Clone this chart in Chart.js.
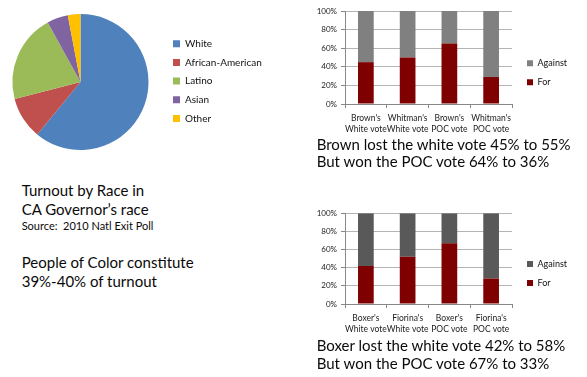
<!DOCTYPE html>
<html>
<head>
<meta charset="utf-8">
<script src="https://cdn.jsdelivr.net/npm/chart.js@4"></script>
<style>
  body { margin: 0; width: 587px; height: 377px; background: #fff; overflow: hidden; position: relative; font-family: Lato, sans-serif; color: #0a0a0a; }
  canvas { position: absolute; }
  .txt { position: absolute; white-space: nowrap; }
</style>
</head>
<body>
<canvas id="raceChart" width="300" height="165" style="left:0px;top:0px"></canvas>
<canvas id="govChart" width="287" height="140" style="left:300px;top:0px"></canvas>
<canvas id="senChart" width="287" height="140" style="left:300px;top:200px"></canvas>

<div class="txt" style="left:21.7px;top:180.7px;font-size:15px;line-height:19px">Turnout by Race in<br>CA Governor’s race</div>
<div class="txt" style="left:21.7px;top:219.6px;font-size:11px;line-height:11px">Source:&nbsp; 2010 Natl Exit Poll</div>
<div class="txt" style="left:21.7px;top:253.3px;font-size:15px;line-height:18.3px">People of Color constitute<br>39%-40% of turnout</div>
<div class="txt" style="left:316.7px;top:136.4px;font-size:15px;line-height:17px">Brown lost the white vote 45% to 55%<br>But won the POC vote 64% to 36%</div>
<div class="txt" style="left:316.7px;top:335.9px;font-size:15px;line-height:18px">Boxer lost the white vote 42% to 58%<br>But won the POC vote 67% to 33%</div>

<script>
// turnout by race (pie)
const raceLabels = ['White', 'African-American', 'Latino', 'Asian', 'Other'];
const raceShares = [61, 10, 21, 5, 3];
const raceColors = ['#4F81BD', '#C0504D', '#9BBB59', '#8064A2', '#FFC000'];

// governor race, vote share by group
const govLabels = [["Brown's", 'White vote'], ["Whitman's", 'White vote'], ["Brown's", 'POC vote'], ["Whitman's", 'POC vote']];
const govFor = [45, 50, 65, 29];
const govAgainst = [55, 50, 35, 71];

// senate race
const senLabels = [["Boxer's", 'White vote'], ["Fiorina's", 'White vote'], ["Boxer's", 'POC vote'], ["Fiorina's", 'POC vote']];
const senFor = [42, 52, 67, 28];
const senAgainst = [58, 48, 33, 72];

const forColor = '#7F0000';

Chart.defaults.font.family = 'Lato, sans-serif';
Chart.defaults.color = '#222';

// puts the legend where the original has it
const legendSpot = {
    id: 'legendSpot',
    beforeInit(chart) {
        const legend = chart.legend;
        if (!legend) return;
        const fit = legend.fit;
        legend.fit = function () {
            fit.call(this);
            const o = chart.options.plugins.legendSpot;
            if (o && o.width) this.width = o.width;
        };
    },
    beforeDraw(chart, args, o) {
        const lg = chart.legend;
        if (!lg || o.x == null) return;
        const pad = lg.options.labels.padding;
        lg.left = o.x - pad;
        lg.top = o.y - pad;
        lg.right = chart.width;
        lg.bottom = chart.height;
    }
};

new Chart(document.getElementById('raceChart'), {
    type: 'pie',
    data: {
        labels: raceLabels,
        datasets: [{ data: raceShares, backgroundColor: raceColors, borderWidth: 0 }]
    },
    options: {
        responsive: false,
        animation: false,
        layout: { padding: { left: 12, top: 14, right: 0, bottom: 15 } },
        plugins: {
            tooltip: { enabled: false },
            legend: {
                position: 'right',
                align: 'start',
                labels: { boxWidth: 7, boxHeight: 7, padding: 8.7, font: { size: 10 }, color: '#111' }
            },
            legendSpot: { x: 173, y: 38.7, width: 151 }
        }
    },
    plugins: [legendSpot]
});

const drawBars = (id, labels, forVals, againstVals, againstColor, padTop, legendY) => {
    return new Chart(document.getElementById(id), {
        type: 'bar',
        data: {
            labels: labels,
            datasets: [
                { label: 'For', data: forVals, backgroundColor: forColor, barPercentage: 0.376, categoryPercentage: 1 },
                { label: 'Against', data: againstVals, backgroundColor: againstColor, barPercentage: 0.376, categoryPercentage: 1 }
            ]
        },
        options: {
            responsive: false,
            animation: false,
            layout: { padding: { top: padTop, left: 0, right: 0, bottom: 0 } },
            scales: {
                x: {
                    stacked: true,
                    ticks: { autoSkip: false, maxRotation: 0, minRotation: 0, font: { size: 8.5, lineHeight: 1.3 }, color: '#222', padding: 5 },
                    grid: { offset: true, drawOnChartArea: false, tickLength: 4, color: '#888' },
                    border: { color: '#888' },
                    afterFit: (s) => { s.height = 36; }
                },
                y: {
                    stacked: true,
                    min: 0,
                    max: 100,
                    ticks: { stepSize: 20, callback: (v) => v + '%', font: { size: 8 }, color: '#222', padding: 4 },
                    grid: { color: '#b4b4b4', tickLength: 4, tickColor: '#888' },
                    border: { color: '#888' },
                    afterFit: (s) => { s.width = 45; }
                }
            },
            plugins: {
                tooltip: { enabled: false },
                legend: {
                    position: 'right',
                    align: 'start',
                    reverse: true,
                    labels: { boxWidth: 6, boxHeight: 6, padding: 10, font: { size: 9 }, color: '#111' }
                },
                legendSpot: { x: 227, y: legendY, width: 75 }
            }
        },
        plugins: [legendSpot]
    });
}

drawBars('govChart', govLabels, govFor, govAgainst, '#808080', 11, 58.8);
drawBars('senChart', senLabels, senFor, senAgainst, '#595959', 13.3, 59.5);
</script>
</body>
</html>
